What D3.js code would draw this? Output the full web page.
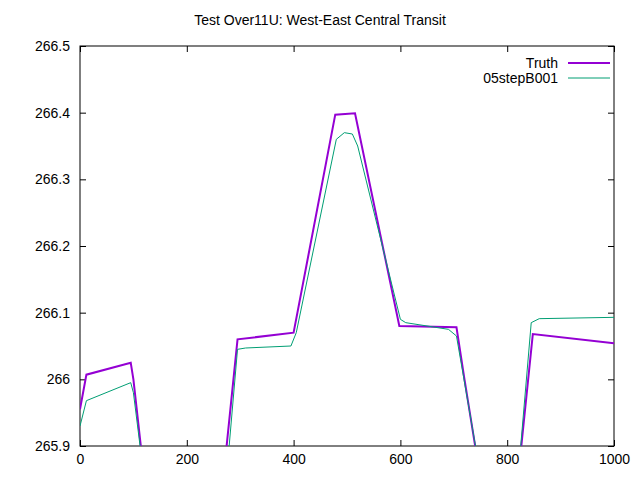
<!DOCTYPE html>
<html><head><meta charset="utf-8">
<script src="https://cdn.jsdelivr.net/npm/d3@7"></script>
<style>body{margin:0;background:#fff}text{font-family:"Liberation Sans",Arial,sans-serif;font-size:14px}</style>
</head><body><svg id="c" width="640" height="480"></svg>
<script>
const title = "Test Over11U: West-East Central Transit";
const xTicks = [0,200,400,600,800,1000];
const yTicks = [265.9,266,266.1,266.2,266.3,266.4,266.5];
const truthX = [0,12,95,100,125,260,272,295,400,478,515,598,705,720,760,800,820,848,1000];
const truthY = [265.955,266.007,266.025,266.0,265.82,265.82,265.88,266.06,266.07,266.397,266.399,266.08,266.078,266.0,265.8,265.8,265.85,266.068,266.054];
const stepX = [0,12,95,100,125,260,275,295,310,395,405,480,495,510,520,600,610,690,705,745,800,820,845,860,1000];
const stepY = [265.93,265.968,265.995,265.98,265.82,265.82,265.86,266.045,266.047,266.05,266.07,266.36,266.37,266.368,266.35,266.09,266.085,266.075,266.065,265.88,265.8,265.85,266.085,266.091,266.093];
const svg = d3.select("#c");
const L=80,R=614,T=46,B=446;
const x = d3.scaleLinear().domain([0,1000]).range([L,R]);
const y = d3.scaleLinear().domain([265.9,266.5]).range([B,T]);
svg.append("defs").append("clipPath").attr("id","clip").append("rect").attr("x",L).attr("y",T).attr("width",R-L).attr("height",B-T);
const ax = svg.append("g");
ax.append("g").attr("transform",`translate(0,${B})`).call(d3.axisBottom(x).tickValues(xTicks).tickSize(-6).tickPadding(8).tickFormat(d3.format("d")));
ax.append("g").attr("transform",`translate(0,${T})`).call(d3.axisTop(x).tickValues(xTicks).tickSize(-6).tickFormat(""));
ax.append("g").attr("transform",`translate(${L},0)`).call(d3.axisLeft(y).tickValues(yTicks).tickSize(-6).tickPadding(10).tickFormat(d=>d3.format("")(+d.toFixed(1))));
ax.append("g").attr("transform",`translate(${R},0)`).call(d3.axisRight(y).tickValues(yTicks).tickSize(-6).tickFormat(""));
ax.selectAll(".domain").remove();
ax.selectAll("text").attr("fill","#000").style("font-size","14px");
svg.append("rect").attr("x",L).attr("y",T).attr("width",R-L).attr("height",B-T).attr("fill","none").attr("stroke","#000");
const line = d3.line().x(d=>x(d[0])).y(d=>y(d[1]));
svg.append("path").attr("clip-path","url(#clip)").datum(truthX.map((v,i)=>[v,truthY[i]])).attr("d",line).attr("fill","none").attr("stroke","#9400d3").attr("stroke-width",2);
svg.append("path").attr("clip-path","url(#clip)").datum(stepX.map((v,i)=>[v,stepY[i]])).attr("d",line).attr("fill","none").attr("stroke","#009e73").attr("stroke-width",1);
svg.append("text").attr("x",320).attr("y",25).attr("text-anchor","middle").text(title);
[["Truth","#9400d3",2,63],["05stepB001","#009e73",1,78]].forEach(([t,c,w,yy])=>{
 svg.append("text").attr("x",558).attr("y",yy+5).attr("text-anchor","end").text(t);
 svg.append("line").attr("x1",568).attr("x2",610).attr("y1",yy).attr("y2",yy).attr("stroke",c).attr("stroke-width",w);
});
</script></body></html>
